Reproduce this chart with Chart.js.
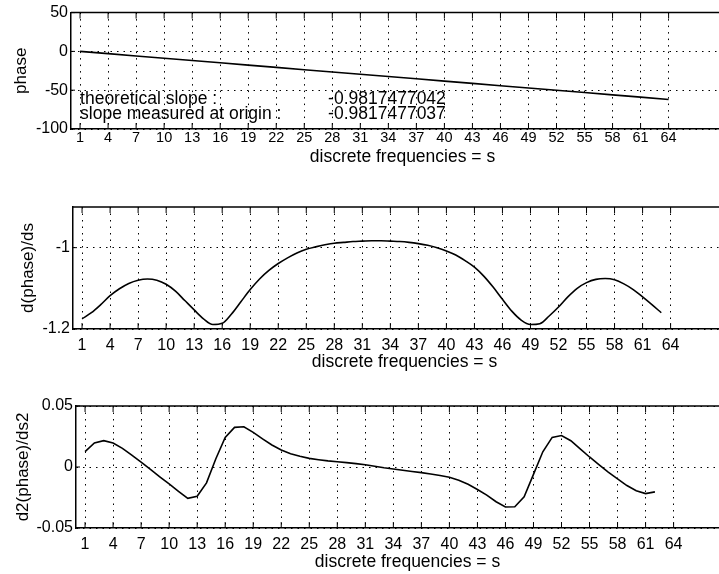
<!DOCTYPE html>
<html>
<head>
<meta charset="utf-8">
<script src="https://cdn.jsdelivr.net/npm/chart.js@4.4.1/dist/chart.umd.min.js"></script>
<style>
  html, body { margin: 0; padding: 0; background: #fff; }
  body { width: 719px; height: 574px; overflow: hidden; position: relative; }
  canvas { position: absolute; left: 0; }
</style>
</head>
<body>
<canvas id="phaseChart" width="734" height="170" style="top:0px"></canvas>
<canvas id="slopeChart" width="736" height="183" style="top:190px"></canvas>
<canvas id="curveChart" width="739" height="193" style="top:380px"></canvas>
<script>
// frequency ticks shared by all three panels
const freqTicks = [1, 4, 7, 10, 13, 16, 19, 22, 25, 28, 31, 34, 37, 40, 43, 46, 49, 52, 55, 58, 61, 64];

// phase, sampled at the tick frequencies
const phaseFreqs = [1, 4, 7, 10, 13, 16, 19, 22, 25, 28, 31, 34, 37, 40, 43, 46, 49, 52, 55, 58, 61, 64];
const phaseValues = [0, -2.9, -5.9, -8.8, -11.8, -14.7, -17.7, -20.6, -23.6, -26.5, -29.5,
  -32.4, -35.3, -38.3, -41.2, -44.2, -47.1, -50.1, -53.0, -56.0, -58.9, -61.9];
const phaseTicks = [-100, -50, 0, 50];
const noteLabels = ['theoretical slope :', 'slope measured at origin :'];
const noteValues = ['-0.9817477042', '-0.9817477037'];

// first derivative, s = 1..63
const slopeValues = [-1.175, -1.160, -1.140, -1.118, -1.101, -1.088, -1.080, -1.077, -1.080, -1.090,
  -1.107, -1.130, -1.153, -1.175, -1.189, -1.186, -1.163, -1.133, -1.103, -1.077,
  -1.056, -1.039, -1.025, -1.013, -1.004, -0.998, -0.993, -0.989, -0.987, -0.985,
  -0.984, -0.983, -0.983, -0.984, -0.985, -0.987, -0.990, -0.994, -1.000, -1.008,
  -1.018, -1.032, -1.048, -1.070, -1.097, -1.127, -1.156, -1.178, -1.189, -1.187,
  -1.168, -1.146, -1.121, -1.100, -1.086, -1.078, -1.076, -1.079, -1.089, -1.103,
  -1.121, -1.140, -1.160];
const slopeTicks = [-1.2, -1];

// second derivative, s = 1..62
const curveValues = [0.0126, 0.0197, 0.0216, 0.0197, 0.0153, 0.0098, 0.0040, -0.0020, -0.0080, -0.0139,
  -0.0199, -0.0257, -0.0240, -0.0130, 0.0068, 0.0243, 0.0325, 0.0330, 0.0284, 0.0230,
  0.0180, 0.0139, 0.0109, 0.0088, 0.0071, 0.0060, 0.0050, 0.0043, 0.0036, 0.0028,
  0.0018, 0.0006, -0.0006, -0.0016, -0.0027, -0.0037, -0.0046, -0.0058, -0.0070, -0.0084,
  -0.0108, -0.0142, -0.0184, -0.0230, -0.0285, -0.0328, -0.0326, -0.0245, -0.0060, 0.0125,
  0.0243, 0.0258, 0.0215, 0.0148, 0.0082, 0.0020, -0.0042, -0.0097, -0.0152, -0.0195,
  -0.0218, -0.0204];
const curveTicks = [-0.05, 0, 0.05];

const slopeFreqs = slopeValues.map((_, i) => i + 1);
const curveFreqs = curveValues.map((_, i) => i + 1);

const FONT = '"Liberation Sans", Arial, sans-serif';
Chart.defaults.font.family = FONT;
Chart.defaults.font.size = 15;
Chart.defaults.color = '#000';

// top border plus the small inward tick marks
const axesFrame = {
  id: 'axesFrame',
  afterDraw(chart) {
    const { ctx, chartArea: a, scales: { x, y } } = chart;
    ctx.save();
    ctx.strokeStyle = '#000';
    ctx.lineWidth = 1.5;
    ctx.beginPath();
    ctx.moveTo(a.left, a.top);
    ctx.lineTo(a.right, a.top);
    ctx.stroke();
    ctx.lineWidth = 1;
    ctx.beginPath();
    x.ticks.forEach(t => {
      const px = x.getPixelForValue(t.value);
      ctx.moveTo(px, a.top);
      ctx.lineTo(px, a.top + 6);
      ctx.moveTo(px, a.bottom);
      ctx.lineTo(px, a.bottom - 6);
    });
    y.ticks.forEach(t => {
      const py = y.getPixelForValue(t.value);
      ctx.moveTo(a.left, py);
      ctx.lineTo(a.left + 4, py);
    });
    ctx.stroke();
    ctx.restore();
  }
};

// slope readouts written inside the phase panel
const slopeNotes = {
  id: 'slopeNotes',
  afterDatasetsDraw(chart) {
    const { ctx, scales: { x, y } } = chart;
    ctx.save();
    ctx.fillStyle = '#000';
    ctx.font = '17.5px ' + FONT;
    ctx.textBaseline = 'alphabetic';
    const rows = [-68, -87];
    noteLabels.forEach((txt, i) => {
      const py = y.getPixelForValue(rows[i]);
      ctx.fillText(txt, x.getPixelForValue(1), py);
      ctx.fillText(noteValues[i], x.getPixelForValue(27.55), py);
    });
    ctx.restore();
  }
};

function makePanel(id, opts) {
  const ctx = document.getElementById(id).getContext('2d');
  const points = opts.xs.map((s, i) => ({ x: s, y: opts.ys[i] }));
  return new Chart(ctx, {
    type: 'line',
    data: {
      datasets: [{
        data: points,
        borderColor: '#000',
        borderWidth: 1.6,
        pointRadius: 0,
        fill: false,
        tension: opts.smooth ? 0.4 : 0,
        cubicInterpolationMode: opts.smooth ? 'monotone' : 'default'
      }]
    },
    options: {
      responsive: false,
      animation: false,
      events: [],
      layout: { padding: { top: opts.padTop, right: 0, bottom: 0, left: 0 } },
      plugins: { legend: { display: false }, tooltip: { enabled: false } },
      scales: {
        x: {
          type: 'linear',
          min: 0.03,
          max: 71,
          afterBuildTicks: s => { s.ticks = freqTicks.map(v => ({ value: v })); },
          afterFit: s => { s.height = opts.xHeight; },
          ticks: {
            padding: opts.xPad, maxRotation: 0, autoSkip: false,
            font: { size: opts.xFont }, callback: v => String(v)
          },
          grid: { color: '#000', lineWidth: 1, drawTicks: false },
          border: { display: true, color: '#000', width: 1.5, dash: [1.5, 5] },
          title: {
            display: true, text: 'discrete frequencies = s', font: { size: 17.5 },
            padding: { top: 0, bottom: opts.titlePad }
          }
        },
        y: {
          min: opts.yMin,
          max: opts.yMax,
          afterBuildTicks: s => { s.ticks = opts.yTicks.map(v => ({ value: v })); },
          afterFit: s => { s.width = opts.left; },
          ticks: { padding: 3, font: { size: 16 }, callback: v => String(v) },
          grid: { color: '#000', lineWidth: 1, drawTicks: false },
          border: { display: true, color: '#000', width: 1.5, dash: [1.5, 5] },
          title: {
            display: true, text: opts.yTitle, font: { size: 17 },
            padding: { top: opts.yTitlePad, bottom: 0 }
          }
        }
      }
    },
    plugins: opts.notes ? [axesFrame, slopeNotes] : [axesFrame]
  });
}

makePanel('phaseChart', {
  xs: phaseFreqs, ys: phaseValues, yMin: -100, yMax: 50, yTicks: phaseTicks,
  yTitle: 'phase', left: 71, padTop: 9, xHeight: 41, xFont: 14.5, xPad: 0, titlePad: 2.5,
  yTitlePad: 11, notes: true
});

makePanel('slopeChart', {
  xs: slopeFreqs, ys: slopeValues, yMin: -1.2, yMax: -0.9, yTicks: slopeTicks,
  yTitle: 'd(phase)/ds', left: 73, padTop: 17, xHeight: 44, xFont: 16, xPad: 7, titlePad: 0,
  yTitlePad: 18, smooth: true
});

makePanel('curveChart', {
  xs: curveFreqs, ys: curveValues, yMin: -0.05, yMax: 0.05, yTicks: curveTicks,
  yTitle: 'd2(phase)/ds2', left: 76, padTop: 26, xHeight: 45, xFont: 16, xPad: 7, titlePad: 0,
  yTitlePad: 13
});
</script>
</body>
</html>
